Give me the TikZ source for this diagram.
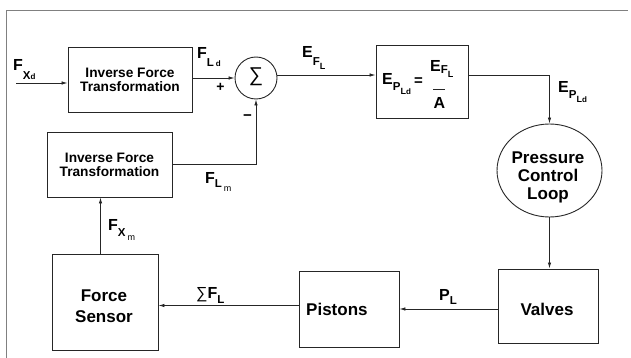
\documentclass[tikz,border=0pt]{standalone}
\usepackage{fontspec}
\setmainfont{Liberation Sans}
\usetikzlibrary{arrows.meta,shapes.geometric}
\newcommand\sA[2][7pt]{\raisebox{-#1}{\fontsize{11.5}{12}\selectfont #2}}
\newcommand\sB[2][4pt]{\raisebox{-#1}{\fontsize{9}{10}\selectfont #2}}
\newcommand\sC[1]{{\fontsize{8}{9}\selectfont #1}}
\newcommand\sM[2][4pt]{\raisebox{-#1}{\fontsize{9}{10}\selectfont\mdseries #2}}
\begin{document}
\begin{tikzpicture}[x=1pt,y=-1pt,
  blk/.style={draw=black!85,line width=0.9pt,rectangle,inner sep=0pt},
  txt/.style={font=\bfseries\fontsize{13.7}{13.9}\selectfont,align=center,inner sep=0pt},
  big/.style={font=\bfseries\fontsize{17}{21.5}\selectfont,align=center,inner sep=0pt},
  lab/.style={font=\bfseries\fontsize{16}{16}\selectfont,inner sep=0pt,anchor=base west},
  sgn/.style={font=\bfseries\fontsize{14}{14}\selectfont,inner sep=0pt},
  conn/.style={draw=black!85,line width=0.8pt},
  arr/.style={conn,-{Latex[length=6pt,width=3.5pt]}},
]
\useasboundingbox (0,0) rectangle (631,358);
\draw[gray,line width=1.4pt] (6.5,358) -- (6.5,10.5) -- (628,10.5);

% blocks
\node[blk,txt,minimum width=124,minimum height=65] (ift1) at (130,79.5) {Inverse Force\\Transformation};
\node[blk,txt,minimum width=125,minimum height=65] (ift2) at (109.5,164.5) {Inverse Force\\Transformation};
\node[draw=black!85,line width=0.9pt,circle,minimum size=42,inner sep=0pt] (sum) at (256,78) {};
\node[inner sep=0pt,font=\fontsize{20}{20}\selectfont] (sumt) at (256,77) {∑};
\node[blk,minimum width=92,minimum height=73] (box2) at (422,81.5) {};
\node[draw=black!85,line width=0.9pt,ellipse,minimum width=105,minimum height=93,inner sep=0pt] (pcl) at (549.5,170.5) {};
\node[big,font=\bfseries\fontsize{17}{17.7}\selectfont] (pclt) at (548,177.3) {Pressure\\Control\\Loop};
\node[blk,minimum width=100,minimum height=74.5] (valves) at (548,306.2) {};
\node[big,anchor=base] (valvest) at (547,315) {Valves};
\node[blk,minimum width=100,minimum height=76] (pistons) at (349,309) {};
\node[big,anchor=base west] (pistonst) at (306,315) {Pistons};
\node[blk,minimum width=106,minimum height=96] (fs) at (105,302) {};
\node[big] (fst) at (104,306.3) {Force\\Sensor};

% box2 content
\node[lab] (eq1) at (382,85) {E\sA[6pt]{P\sB[4pt]{L\sC{d}}}};
\node[sgn,font=\bfseries\fontsize{15}{15}\selectfont] (eqs) at (418.5,81.5) {=};
\node[lab] (eqn) at (430,71.7) {E\sA[1.5pt]{F\sB[4pt]{L}}};
\coordinate (barl) at (433,90);
\coordinate (barr) at (445,90);
\draw[conn,line width=1pt] (barl) -- (barr);
\node[lab,anchor=base] (eqa) at (439.5,109) {A};

% connectors
\coordinate (in) at (16,83);
\draw[arr] (in) -- (in -| ift1.west);
\draw[arr] (ift1.east |- sum.west) -- (sum.west);
\draw[arr] (sum.8) -- (sum.8 -| box2.west);
\draw[arr] (box2.east |- sum.8) -| (pcl.north);
\draw[arr] (pcl.south) -- (pcl.south |- valves.north);
\coordinate (pl) at (0,309);
\draw[arr] (valves.west |- pl) -- (pistons.east |- pl);
\coordinate (sl) at (0,305.5);
\draw[arr] (pistons.west |- sl) -- (fs.east |- sl);
\coordinate (fx) at (100.5,0);
\draw[arr] (fs.north -| fx) -- (ift2.south -| fx);
\draw[arr] (ift2.east) -| (sum.south);

% labels
\node[lab] (lfxd) at (13,71) {F\sA[9pt]{X\sC{d}}};
\node[lab] (lfld) at (197,59) {F\sA[8pt]{L\,\sC{d}}};
\node[sgn] (plus) at (220.5,87.5) {+};
\node[sgn,font=\bfseries\fontsize{15}{15}\selectfont] (minus) at (247.5,118) {−};
\node[lab] (lefl) at (302,58) {E\sA[8pt]{F\sB[4pt]{L}}};
\node[lab] (lepld) at (558,93) {E\sA[6pt]{P\sB[4pt]{L\sC{d}}}};
\node[lab] (lflm) at (205,183) {F\sA[4pt]{L\,\sM[4pt]{m}}};
\node[lab] (lfxm) at (108,230) {F\sA[6.5pt]{X\,\sM[3.5pt]{m}}};
\node[lab] (lsfl) at (196,298.5) {{\mdseries ∑}F\sA[5pt]{L}};
\node[lab] (lpl) at (439,300) {P\sA[4pt]{L}};
\end{tikzpicture}
\end{document}
